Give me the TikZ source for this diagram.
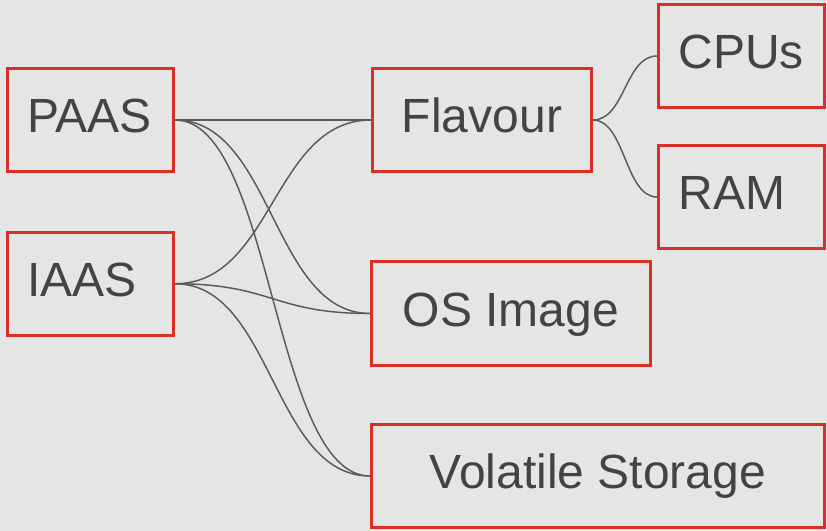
\documentclass[tikz,border=0pt]{standalone}
\usepackage{fontspec}
\setmainfont{Liberation Sans}
\usetikzlibrary{calc}
\definecolor{bg}{HTML}{E5E5E5}
\definecolor{boxred}{HTML}{D93025}
\definecolor{txt}{HTML}{434343}
\definecolor{linegray}{HTML}{5A5A5A}
\tikzset{
  box/.style={draw=boxred, line width=2.25pt, fill=bg, text=txt, anchor=center,
    font=\fontsize{36pt}{43pt}\selectfont, inner xsep=12pt, inner ysep=0pt,
    text height=27.4pt, text depth=8.6pt},
  leftbox/.style={box, align=left, inner xsep=15pt, text width=#1},
  conn/.style={draw=linegray, line width=1.1pt, line cap=round,
    to path={let \p1=(\tikztostart), \p2=(\tikztotarget) in
      .. controls ({0.5*\x1+0.5*\x2},\y1) and ({0.5*\x1+0.5*\x2},\y2) .. (\tikztotarget)}}
}
\begin{document}
\begin{tikzpicture}[x=0.75pt, y=-0.75pt]
\path[use as bounding box, fill=bg] (0,0) rectangle (827,531);
\node[leftbox=94.5pt, minimum height=77.25pt] (paas) at (90.5,120) {PAAS};
\node[leftbox=94.5pt, minimum height=76.9pt] (iaas) at (90.5,283.75) {IAAS};
\node[box, minimum width=164.25pt, minimum height=77.25pt] (flavour) at (482,120) {Flavour};
\node[leftbox=94.5pt, minimum height=77.5pt] (cpus) at (741.5,56) {CPUs};
\node[leftbox=94.5pt, minimum height=77.25pt] (ram) at (741.5,197) {RAM};
\node[box, minimum width=209pt, minimum height=78.4pt] (os) at (510.85,313.5) {OS Image};
\node[box, minimum width=339.75pt, minimum height=77.7pt] (vol) at (598,476) {Volatile Storage};
\draw[conn] (paas.east) to (flavour.west);
\draw[conn] (paas.east) to (os.west);
\draw[conn] (paas.east) to (vol.west);
\draw[conn] (iaas.east) to (flavour.west);
\draw[conn] (iaas.east) to (os.west);
\draw[conn] (iaas.east) to (vol.west);
\draw[conn] (flavour.east) to (cpus.west);
\draw[conn] (flavour.east) to (ram.west);
\end{tikzpicture}
\end{document}
